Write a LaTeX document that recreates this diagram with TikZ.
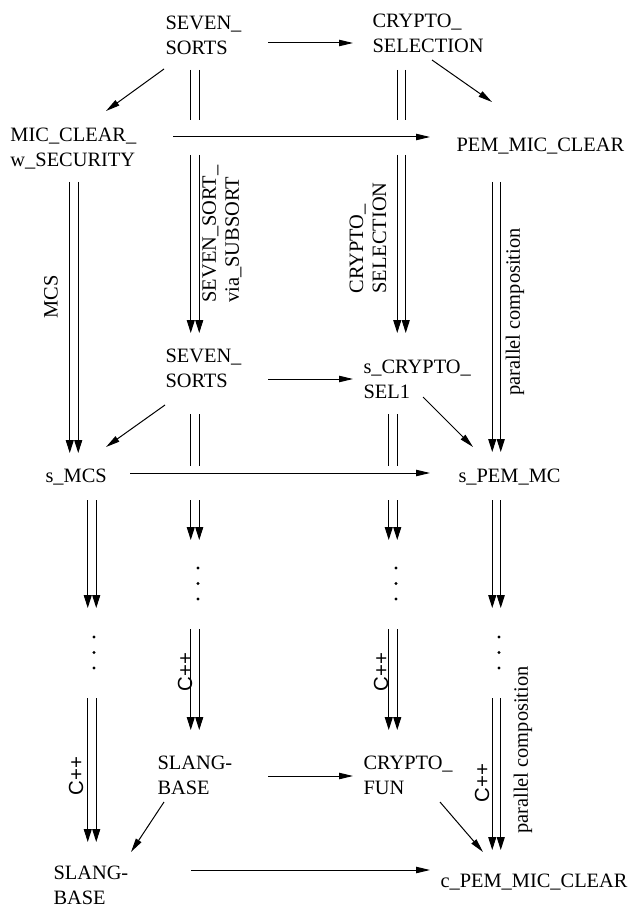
\documentclass[tikz,border=0pt]{standalone}
\usepackage{fontspec}
\setmainfont{Liberation Serif}
\newfontfamily\labsans{Liberation Sans}
\usetikzlibrary{arrows.meta}
\newcommand{\objfont}{\fontsize{10.2}{12.5}\selectfont}
\newcommand{\labfont}{\fontsize{10.2}{11.5}\selectfont}

\begin{document}
\begin{tikzpicture}[x=0.5pt, y=-0.5pt, line width=0.5pt,
    obj/.style={anchor=north west, inner sep=0pt, align=left, font=\objfont},
    lab/.style={rotate=90, inner sep=0pt, align=left, font=\labfont},
    mono/.style={-{Triangle[length=7pt,width=3.2pt]}},
    twin/.style={-{Triangle[length=6.5pt,width=4pt]}}]
        \useasboundingbox (0,0) rectangle (629,909);

        % Back square (specifications)
        \node[obj] (ss) at (165,15) {SEVEN\_\\SORTS};
        \node[obj] (cs) at (372,13) {CRYPTO\_\\SELECTION};
        \node[obj] (mcw) at (10,127) {MIC\_CLEAR\_\\w\_SECURITY};
        \node[obj] (pmc) at (456,137) {PEM\_MIC\_CLEAR};

        % Middle square (refined specifications)
        \node[obj] (ss2) at (165,348) {SEVEN\_\\SORTS};
        \node[obj] (scs) at (363,359) {s\_CRYPTO\_\\SEL1};
        \node[obj] (smcs) at (45,468) {s\_MCS};
        \node[obj] (spmc) at (458,468) {s\_PEM\_MC};

        % Front square (code)
        \node[obj] (slb) at (157,755) {SLANG-\\BASE};
        \node[obj] (cfun) at (363,755) {CRYPTO\_\\FUN};
        \node[obj] (slb2) at (53,865) {SLANG-\\BASE};
        \node[obj] (cpmc) at (440,873) {c\_PEM\_MIC\_CLEAR};

        % Horizontal arrows
        \draw[mono] ([shift={(103,28)}]ss.north west) -- ([shift={(-19,30)}]cs.north west);
        \draw[mono] ([shift={(163,10)}]mcw.north west) -- ([shift={(-26,0)}]pmc.north west);
        \draw[mono] ([shift={(103,31)}]ss2.north west) -- ([shift={(-10,20)}]scs.north west);
        \draw[mono] ([shift={(85,5)}]smcs.north west) -- ([shift={(-28,5)}]spmc.north west);
        \draw[mono] ([shift={(111,21)}]slb.north west) -- ([shift={(-10,21)}]cfun.north west);
        \draw[mono] ([shift={(138,5)}]slb2.north west) -- ([shift={(-10,-3)}]cpmc.north west);

        % Diagonal arrows
        \draw[mono] ([shift={(-1,54)}]ss.north west) -- ([shift={(96,-16)}]mcw.north west);
        \draw[mono] ([shift={(60,47)}]cs.north west) -- ([shift={(36,-35)}]pmc.north west);
        \draw[mono] ([shift={(0,57)}]ss2.north west) -- ([shift={(61,-21)}]smcs.north west);
        \draw[mono] ([shift={(60,38)}]scs.north west) -- ([shift={(15,-21)}]spmc.north west);
        \draw[mono] ([shift={(7,47)}]slb.north west) -- ([shift={(78,-13)}]slb2.north west);
        \draw[mono] ([shift={(77,47)}]cfun.north west) -- ([shift={(43,-21)}]cpmc.north west);

        % Double (refinement) arrows
        \foreach \s in {-4.25,4.25} {
            % SEVEN_SORTS column
            \draw ([shift={(30+\s,55)}]ss.north west) -- ++(0,50);
            \draw[twin] ([shift={(30+\s,-193)}]ss2.north west) -- ([shift={(30+\s,-15)}]ss2.north west);
            \draw ([shift={(30+\s,66)}]ss2.north west) -- ++(0,52);
            \draw[twin] ([shift={(30+\s,152)}]ss2.north west) -- ++(0,40);
            \draw[twin] ([shift={(38+\s,-126)}]slb.north west) -- ([shift={(38+\s,-25)}]slb.north west);
            % CRYPTO column
            \draw ([shift={(29.5+\s,57)}]cs.north west) -- ++(0,50);
            \draw[twin] ([shift={(38.5+\s,-204)}]scs.north west) -- ([shift={(38.5+\s,-26)}]scs.north west);
            \draw ([shift={(30+\s,55)}]scs.north west) -- ++(0,52);
            \draw[twin] ([shift={(30+\s,141)}]scs.north west) -- ++(0,40);
            \draw[twin] ([shift={(30+\s,-126)}]cfun.north west) -- ([shift={(30+\s,-25)}]cfun.north west);
            % MCS column
            \draw[twin] ([shift={(64+\s,55)}]mcw.north west) -- ([shift={(29+\s,-15)}]smcs.north west);
            \draw[twin] ([shift={(47+\s,32)}]smcs.north west) -- ++(0,108);
            \draw[twin] ([shift={(39+\s,-167)}]slb2.north west) -- ([shift={(39+\s,-23)}]slb2.north west);
            % PEM column
            \draw[twin] ([shift={(40.5+\s,45)}]pmc.north west) -- ([shift={(38.5+\s,-16)}]spmc.north west);
            \draw[twin] ([shift={(38.5+\s,32)}]spmc.north west) -- ++(0,108);
            \draw[twin] ([shift={(56.5+\s,-175)}]cpmc.north west) -- ([shift={(56.5+\s,-23)}]cpmc.north west);
        }

        % Dots
        \foreach \x/\y in {198/568, 396/568, 94/637, 499/637}
            \foreach \d in {0,15.5,31}
                \fill (\x,\y+\d) circle[radius=0.8pt];

        % Arrow labels
        \node[lab] (lmcs) at (51,297) {MCS};
        \node[lab] (lsub) at (222,234) {SEVEN\_SORT\_\\via\_SUBSORT};
        \node[lab] (lcrypto) at (368,238) {CRYPTO\_\\SELECTION};
        \node[lab] (lpar) at (515,312) {parallel composition};
        \node[lab] (lparc) at (523,750) {parallel composition};
        \node[lab, font=\labsans\labfont] (lcppa) at (185,672) {C++};
        \node[lab, font=\labsans\labfont] (lcppb) at (381,672) {C++};
        \node[lab, font=\labsans\labfont] (lcppc) at (76,776) {C++};
        \node[lab, font=\labsans\labfont] (lcppd) at (482,783) {C++};
\end{tikzpicture}
\end{document}
